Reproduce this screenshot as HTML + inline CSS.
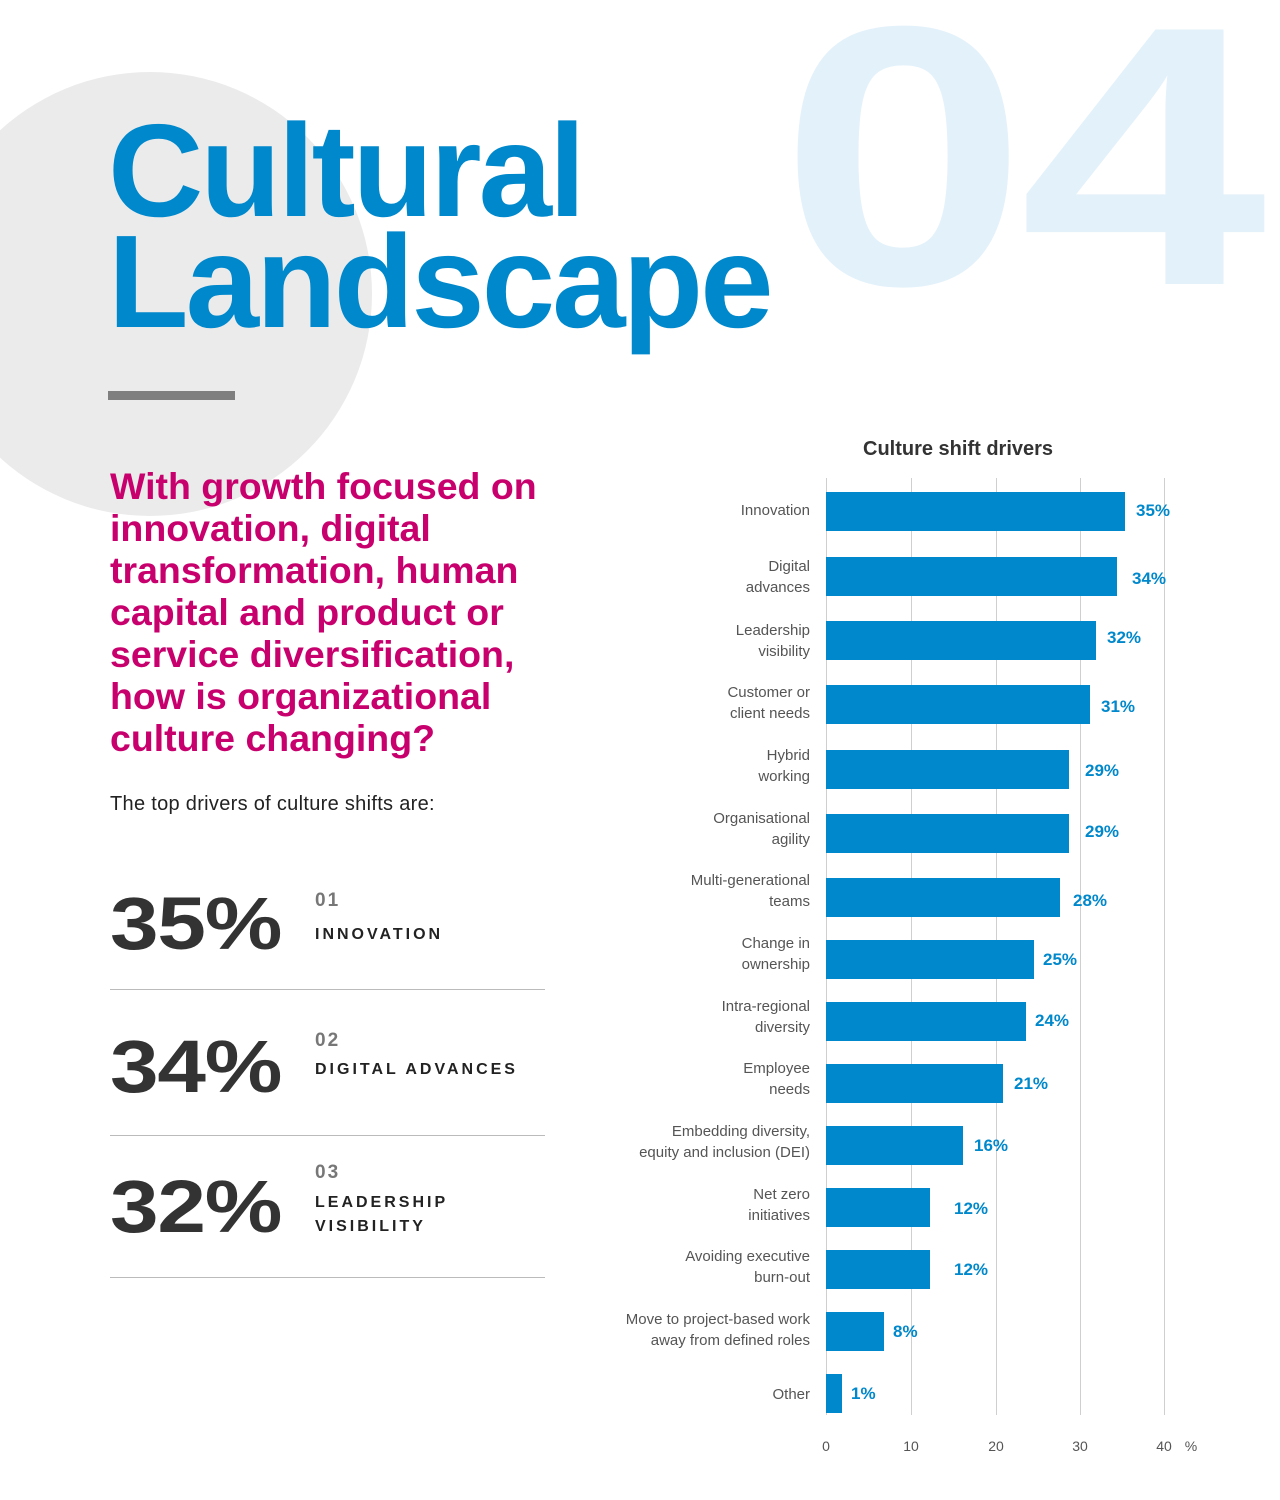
<!DOCTYPE html>
<html><head><meta charset="utf-8"><style>
body{margin:0;width:1280px;height:1500px;position:relative;overflow:hidden;background:#fff;font-family:"Liberation Sans",sans-serif}
.a{position:absolute}
.cat{position:absolute;right:470px;text-align:right;color:#555;font-size:15px;line-height:21px;width:260px}
.bar{position:absolute;left:826px;height:39px;background:#0088cc}
.val{position:absolute;color:#0088cc;font-weight:bold;font-size:17px}
.g{position:absolute;top:478px;height:937px;width:1px;background:#cfcfcf}
.tk{position:absolute;top:1438px;font-size:14px;color:#555;width:40px;text-align:center}
.big{position:absolute;left:110px;font-size:74px;font-weight:bold;color:#333;letter-spacing:-1px;transform:scaleX(1.18);transform-origin:left top}
.num{position:absolute;left:315px;font-size:19px;font-weight:bold;color:#777;letter-spacing:2px}
.lab{position:absolute;left:315px;font-size:16px;font-weight:bold;color:#222;letter-spacing:3px;line-height:24px}
.hr{position:absolute;left:110px;width:435px;height:1px;background:#bbb}
</style></head><body>
<div class="a" style="left:-72px;top:72px;width:444px;height:444px;border-radius:50%;background:#ebebeb"></div>
<div class="a" style="left:780px;top:-28px;font-size:370px;font-weight:bold;color:#e3f1fa;letter-spacing:-6px;line-height:1;transform:scaleX(1.2);transform-origin:left top">04</div>
<div class="a" style="left:108px;top:115px;font-size:132px;font-weight:bold;color:#0088cc;line-height:111px;letter-spacing:-3px">Cultural<br>Landscape</div>
<div class="a" style="left:108px;top:391px;width:127px;height:9px;background:#7f7f7f"></div>
<div class="a" style="left:110px;top:465px;font-size:37.5px;font-weight:bold;color:#c8006e;line-height:42px;width:450px">With growth focused on innovation, digital transformation, human capital and product or service diversification, how is organizational culture changing?</div>
<div class="a" style="left:110px;top:793px;font-size:20px;color:#222;letter-spacing:0.3px">The top drivers of culture shifts are:</div>
<div class="big" style="top:881px">35%</div><div class="num" style="top:890px">01</div><div class="lab" style="top:923px">INNOVATION</div>
<div class="hr" style="top:989px"></div>
<div class="big" style="top:1024px">34%</div><div class="num" style="top:1030px">02</div><div class="lab" style="top:1058px">DIGITAL ADVANCES</div>
<div class="hr" style="top:1135px"></div>
<div class="big" style="top:1164px">32%</div><div class="num" style="top:1162px">03</div><div class="lab" style="top:1191px">LEADERSHIP<br>VISIBILITY</div>
<div class="hr" style="top:1277px"></div>
<div class="a" style="left:863px;top:438px;font-size:20px;font-weight:bold;color:#333">Culture shift drivers</div>
<div class="g" style="left:826px"></div><div class="g" style="left:911px"></div><div class="g" style="left:996px"></div><div class="g" style="left:1080px"></div><div class="g" style="left:1164px"></div>
<div class="tk" style="left:806px">0</div><div class="tk" style="left:891px">10</div><div class="tk" style="left:976px">20</div><div class="tk" style="left:1060px">30</div><div class="tk" style="left:1144px">40</div><div class="tk" style="left:1171px">%</div>

<div class="cat" style="top:500px">Innovation</div><div class="bar" style="top:492px;width:299px"></div><div class="val" style="left:1136px;top:501px">35%</div>
<div class="cat" style="top:556px">Digital<br>advances</div><div class="bar" style="top:557px;width:291px"></div><div class="val" style="left:1132px;top:569px">34%</div>
<div class="cat" style="top:620px">Leadership<br>visibility</div><div class="bar" style="top:621px;width:270px"></div><div class="val" style="left:1107px;top:628px">32%</div>
<div class="cat" style="top:682px">Customer or<br>client needs</div><div class="bar" style="top:685px;width:264px"></div><div class="val" style="left:1101px;top:697px">31%</div>
<div class="cat" style="top:745px">Hybrid<br>working</div><div class="bar" style="top:750px;width:243px"></div><div class="val" style="left:1085px;top:761px">29%</div>
<div class="cat" style="top:808px">Organisational<br>agility</div><div class="bar" style="top:814px;width:243px"></div><div class="val" style="left:1085px;top:822px">29%</div>
<div class="cat" style="top:870px">Multi-generational<br>teams</div><div class="bar" style="top:878px;width:234px"></div><div class="val" style="left:1073px;top:891px">28%</div>
<div class="cat" style="top:933px">Change in<br>ownership</div><div class="bar" style="top:940px;width:208px"></div><div class="val" style="left:1043px;top:950px">25%</div>
<div class="cat" style="top:996px">Intra-regional<br>diversity</div><div class="bar" style="top:1002px;width:200px"></div><div class="val" style="left:1035px;top:1011px">24%</div>
<div class="cat" style="top:1058px">Employee<br>needs</div><div class="bar" style="top:1064px;width:177px"></div><div class="val" style="left:1014px;top:1074px">21%</div>
<div class="cat" style="top:1121px">Embedding diversity,<br>equity and inclusion (DEI)</div><div class="bar" style="top:1126px;width:137px"></div><div class="val" style="left:974px;top:1136px">16%</div>
<div class="cat" style="top:1184px">Net zero<br>initiatives</div><div class="bar" style="top:1188px;width:104px"></div><div class="val" style="left:954px;top:1199px">12%</div>
<div class="cat" style="top:1246px">Avoiding executive<br>burn-out</div><div class="bar" style="top:1250px;width:104px"></div><div class="val" style="left:954px;top:1260px">12%</div>
<div class="cat" style="top:1309px">Move to project-based work<br>away from defined roles</div><div class="bar" style="top:1312px;width:58px"></div><div class="val" style="left:893px;top:1322px">8%</div>
<div class="cat" style="top:1384px">Other</div><div class="bar" style="top:1374px;width:16px"></div><div class="val" style="left:851px;top:1384px">1%</div>
</body></html>
